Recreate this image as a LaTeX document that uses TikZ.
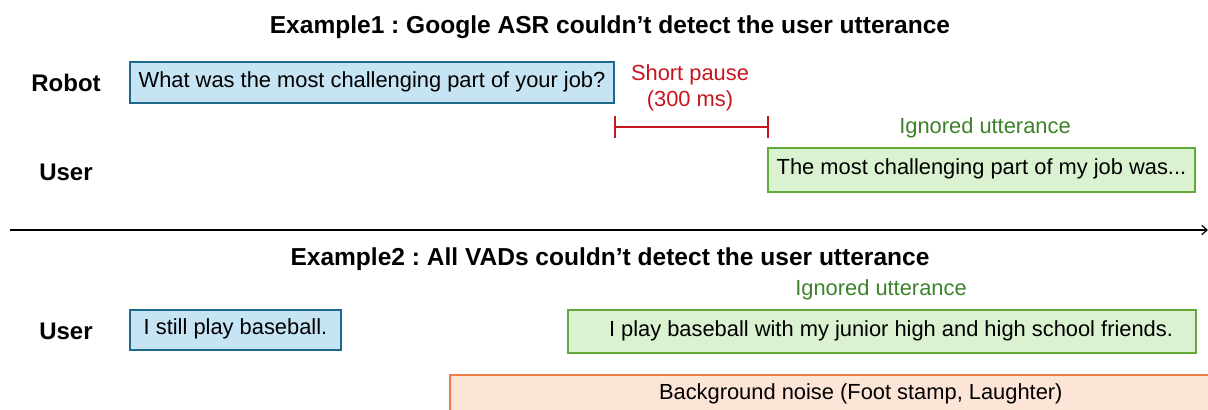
\documentclass[tikz,border=0pt]{standalone}
\usepackage{fontspec}
\setmainfont{Liberation Sans}
\usetikzlibrary{arrows.meta}
\definecolor{bluefill}{HTML}{C6E4F4}
\definecolor{blueline}{HTML}{1D6A8C}
\definecolor{greenfill}{HTML}{DAF2D0}
\definecolor{greenline}{HTML}{62AA3C}
\definecolor{orangefill}{HTML}{FCE4D6}
\definecolor{orangeline}{HTML}{F07F45}
\definecolor{pausered}{HTML}{C8141E}
\definecolor{ignoregreen}{HTML}{3C822A}
\frenchspacing
\begin{document}
\begin{tikzpicture}[x=0.75pt, y=-0.75pt,
        every node/.style={font=\fontsize{16.4}{19}\selectfont, inner sep=0pt},
        title/.style={font=\fontsize{18.4}{21}\selectfont\bfseries},
        speaker/.style={font=\fontsize{18}{21}\selectfont\bfseries},
        box/.style={rectangle, line width=1.2pt, text height=0.9em, text depth=0.21em},
        robotbox/.style={box, draw=blueline, fill=bluefill},
        userbox/.style={box, draw=greenline, fill=greenfill},
        noisebox/.style={box, draw=orangeline, fill=orangefill},
        note/.style={text=ignoregreen},
        pause/.style={draw=pausered, line width=1.5pt, {Bar[width=16.5pt]}-{Bar[width=16.5pt]}},
        timeline/.style={draw=black, line width=0.9pt, -{Straight Barb[length=4pt, width=7pt]}}
    ]
    \useasboundingbox (0,0) rectangle (1208,410);
    % example 1
    \node[title] (title1) at (610,27) {Example1 : Google ASR couldn’t detect the user utterance};
    \node[speaker] (robot1) at (66,83) {Robot};
    \node[speaker] (user1) at (66,172) {User};
    \node[robotbox, minimum width=363pt, minimum height=30.75pt] (q1) at (372,82.5) {What was the most challenging part of your job?};
    \node[text=pausered, align=center, font=\fontsize{16.4}{19.5}\selectfont] (pauselbl) at (690,88) {Short pause\\(300 ms)};
    \coordinate (p1) at (614,127);
    \coordinate (p2) at (769,127);
    \draw[pause] (p1) -- (p2);
    \node[note] (ign1) at (985,128) {Ignored utterance};
    \node[userbox, minimum width=320.25pt, minimum height=33pt] (a1) at (981.5,170) {The most challenging part of my job was...};
    % divider
    \coordinate (d1) at (10,230);
    \coordinate (d2) at (1208,230);
    \draw[timeline] (d1) -- (d2);
    % example 2
    \node[title] (title2) at (610,259) {Example2 : All VADs couldn’t detect the user utterance};
    \node[speaker] (user2) at (66,331) {User};
    \node[robotbox, minimum width=158.25pt, minimum height=30pt] (u2) at (235.5,330) {I still play baseball.};
    \node[note] (ign2) at (881,290) {Ignored utterance};
    \node[userbox, minimum width=471pt, minimum height=32.25pt] (a2) at (882,331.5) {\hspace{13.5pt}I play baseball with my junior high and high school friends.};
    \node[noisebox, minimum width=616.5pt, minimum height=30pt, anchor=north west] (noise) at (449,374) {Background noise (Foot stamp, Laughter)};
\end{tikzpicture}
\end{document}
